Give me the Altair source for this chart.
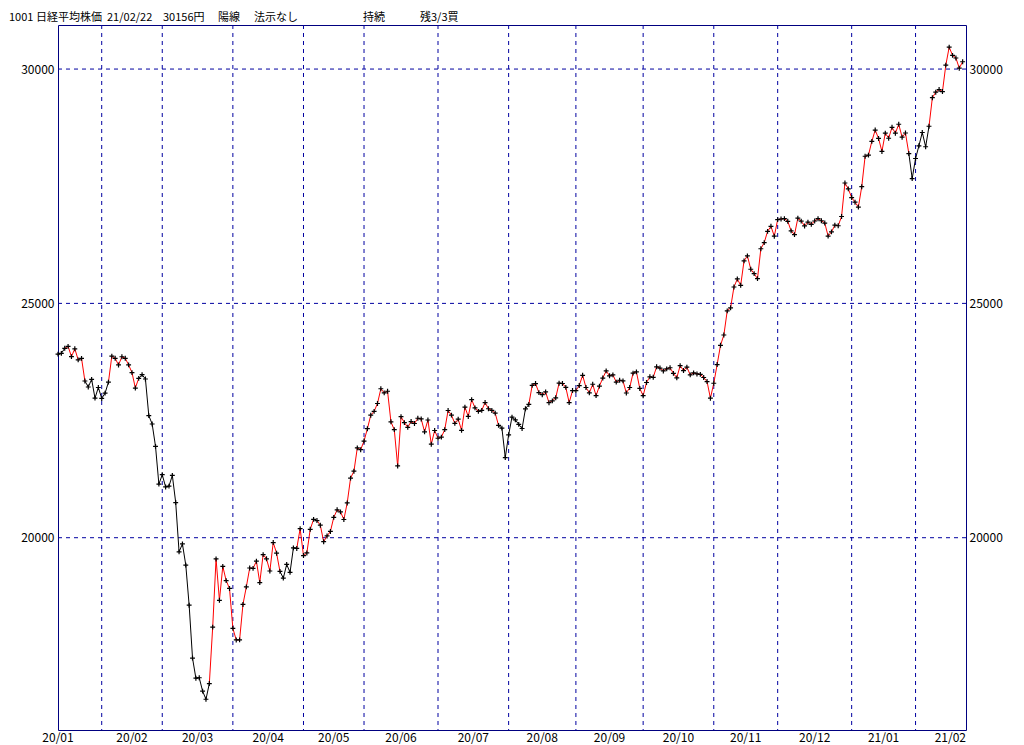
import altair as alt
import pandas as pd

# ---- data (Nikkei 225 daily closes) ----
months = ["2020-01", "2020-02", "2020-03", "2020-04", "2020-05", "2020-06", "2020-07",
          "2020-08", "2020-09", "2020-10", "2020-11", "2020-12", "2021-01", "2021-02"]
days = [
    [15, 16, 17, 20, 21, 22, 23, 24, 27, 28, 29, 30, 31],
    [3, 4, 5, 6, 7, 10, 12, 13, 14, 17, 18, 19, 20, 21, 25, 26, 27, 28],
    [2, 3, 4, 5, 6, 9, 10, 11, 12, 13, 16, 17, 18, 19, 23, 24, 25, 26, 27, 30, 31],
    [1, 2, 3, 6, 7, 8, 9, 10, 13, 14, 15, 16, 17, 20, 21, 22, 23, 24, 27, 28, 30],
    [1, 7, 8, 11, 12, 13, 14, 15, 18, 19, 20, 21, 22, 25, 26, 27, 28, 29],
    [1, 2, 3, 4, 5, 8, 9, 10, 11, 12, 15, 16, 17, 18, 19, 22, 23, 24, 25, 26, 29, 30],
    [1, 2, 3, 6, 7, 8, 9, 10, 13, 14, 15, 16, 17, 20, 21, 22, 27, 28, 29, 30, 31],
    [3, 4, 5, 6, 7, 11, 12, 13, 14, 17, 18, 19, 20, 21, 24, 25, 26, 27, 28, 31],
    [1, 2, 3, 4, 7, 8, 9, 10, 11, 14, 15, 16, 17, 18, 23, 24, 25, 28, 29, 30],
    [2, 5, 6, 7, 8, 9, 12, 13, 14, 15, 16, 19, 20, 21, 22, 23, 26, 27, 28, 29, 30],
    [2, 4, 5, 6, 9, 10, 11, 12, 13, 16, 17, 18, 19, 20, 24, 25, 26, 27, 30],
    [1, 2, 3, 4, 7, 8, 9, 10, 11, 14, 15, 16, 17, 18, 21, 22, 23, 24, 25, 28, 29, 30],
    [4, 5, 6, 7, 8, 12, 13, 14, 15, 18, 19, 20, 21, 22, 25, 26, 27, 28, 29],
    [1, 2, 3, 4, 5, 8, 9, 10, 12, 15, 16, 17, 18, 19, 22],
]
closes = [
    [23916.58, 23933.13, 24041.26, 24083.51, 23864.56, 24031.35, 23795.44, 23827.18,
     23343.51, 23215.71, 23379.40, 22977.75, 23205.18],
    [22971.94, 23084.59, 23319.56, 23873.59, 23827.98, 23685.98, 23861.21, 23827.73,
     23687.59, 23523.24, 23193.80, 23400.70, 23479.15, 23386.74, 22605.41, 22426.19,
     21948.23, 21142.96],
    [21344.08, 21082.73, 21100.06, 21329.12, 20749.75, 19698.76, 19867.12, 19416.06,
     18559.63, 17431.05, 17002.04, 17011.53, 16726.55, 16552.83, 16887.78, 18092.35,
     19546.63, 18664.60, 19389.43, 19084.97, 18917.01],
    [18065.41, 17818.72, 17820.19, 18576.30, 18950.18, 19353.24, 19345.77, 19498.50,
     19043.40, 19638.81, 19550.09, 19290.20, 19897.26, 19669.12, 19280.78, 19137.95,
     19429.44, 19262.00, 19783.22, 19771.19, 20193.69],
    [19619.35, 19674.77, 20179.09, 20390.66, 20366.48, 20267.05, 19914.78, 20037.47,
     20133.73, 20433.45, 20595.15, 20552.31, 20388.16, 20741.65, 21271.17, 21419.23,
     21916.31, 21877.89],
    [22062.39, 22325.61, 22613.76, 22695.74, 22863.73, 23178.10, 23091.03, 23124.95,
     22472.91, 22305.48, 21530.95, 22582.21, 22455.76, 22355.46, 22478.79, 22437.27,
     22549.05, 22534.32, 22259.79, 22512.08, 21995.04, 22288.14],
    [22121.73, 22145.96, 22306.48, 22714.44, 22614.69, 22438.65, 22529.29, 22290.81,
     22784.74, 22587.01, 22945.50, 22770.36, 22696.42, 22717.48, 22884.22, 22751.61,
     22715.85, 22657.38, 22397.11, 22339.23, 21710.00],
    [22195.38, 22573.66, 22514.85, 22418.15, 22329.94, 22750.24, 22843.96, 23249.61,
     23289.36, 23096.75, 23051.08, 23110.61, 22880.62, 22920.30, 22985.51, 23296.77,
     23290.86, 23208.86, 22882.65, 23139.76],
    [23138.07, 23247.15, 23465.53, 23205.43, 23089.95, 23274.13, 23032.54, 23235.47,
     23406.49, 23559.30, 23454.89, 23475.53, 23319.37, 23360.30, 23346.49, 23087.82,
     23204.62, 23511.62, 23539.10, 23185.12],
    [23029.90, 23312.14, 23433.73, 23422.82, 23647.07, 23619.69, 23558.69, 23601.78,
     23626.73, 23507.23, 23410.63, 23671.13, 23567.04, 23639.46, 23474.27, 23516.59,
     23494.34, 23485.80, 23418.51, 23331.94, 22977.13],
    [23295.48, 23695.23, 24105.28, 24325.23, 24839.84, 24905.59, 25349.60, 25520.88,
     25385.87, 25906.93, 26014.62, 25728.14, 25634.34, 25527.37, 26165.59, 26296.86,
     26537.31, 26644.71, 26433.62],
    [26787.54, 26800.98, 26809.37, 26751.24, 26547.44, 26467.08, 26817.94, 26756.24,
     26652.52, 26732.44, 26687.84, 26757.40, 26806.67, 26763.39, 26714.42, 26436.39,
     26524.79, 26668.35, 26656.61, 26854.03, 27568.15, 27444.17],
    [27258.38, 27158.63, 27055.94, 27490.13, 28139.03, 28164.34, 28456.59, 28698.26,
     28519.18, 28242.21, 28633.46, 28523.26, 28756.86, 28631.45, 28822.29, 28546.18,
     28635.21, 28197.42, 27663.39],
    [28091.05, 28362.17, 28646.50, 28341.95, 28779.19, 29388.50, 29505.93, 29562.93,
     29520.07, 30084.15, 30467.75, 30292.19, 30236.09, 30017.92, 30156.03],
]
# segments ending on these date ranges are drawn black, others red
black_runs = [("2020-01-16", "2020-01-17"), ("2020-01-28", "2020-02-05"),
              ("2020-02-20", "2020-03-23"), ("2020-04-22", "2020-04-28"),
              ("2020-07-30", "2020-08-12"), ("2021-01-29", "2021-02-05")]
month_labels = ["20/01", "20/02", "20/03", "20/04", "20/05", "20/06", "20/07",
                "20/08", "20/09", "20/10", "20/11", "20/12", "21/01", "21/02"]
y_ticks = [20000, 25000, 30000]
header_parts = ["1001", "日経平均株価", "21/02/22", "30156円", "陽線", "法示なし", "持続", "残3/3買"]

# ---- build tables ----
dates, vals, month_idx = [], [], []
for m, (mon, dl, cl) in enumerate(zip(months, days, closes)):
    for d, c in zip(dl, cl):
        dates.append(f"{mon}-{d:02d}")
        vals.append(c)
        month_idx.append(m)
n = len(vals)

pts = pd.DataFrame({"i": list(range(n)), "v": vals, "date": dates})

def is_black(ds):
    return any(a <= ds <= b for a, b in black_runs)

seg = pd.DataFrame({
    "i": list(range(n - 1)),
    "i2": list(range(1, n)),
    "v": vals[:-1],
    "v2": vals[1:],
    "state": ["down" if is_black(dates[k]) else "up" for k in range(1, n)],
})

starts = [0] + [k for k in range(1, n) if month_idx[k] != month_idx[k - 1]]
bounds = starts + [n]
xmax = n
grid_v = pd.DataFrame({"i": starts[1:]})
lab_mid = pd.DataFrame({
    "i": [(bounds[k] + bounds[k + 1]) / 2 for k in range(1, len(months) - 1)],
    "t": month_labels[1:-1],
})
lab_first = pd.DataFrame({"i": [0], "t": [month_labels[0]]})
lab_last = pd.DataFrame({"i": [xmax], "t": [month_labels[-1]]})
grid_h = pd.DataFrame({"v": y_ticks})

W, H = 908, 705
NAVY = "#000080"
GRID = "#0000a0"
FONT = "Noto Sans CJK JP"
xs = alt.Scale(domain=[0, xmax], nice=False, zero=False)
ys = alt.Scale(domain=[15897, 30940], nice=False, zero=False)

def yaxis(orient, pad):
    return alt.Axis(orient=orient, values=y_ticks, grid=False, ticks=False, domain=False,
                    labelFont=FONT, labelFontSize=12, labelColor="black", labelPadding=pad,
                    title=None, format="d")

vgrid = alt.Chart(grid_v).mark_rule(color=GRID, strokeDash=[4, 4], strokeWidth=1).encode(
    x=alt.X("i:Q", scale=xs, axis=None))
hgrid = alt.Chart(grid_h).mark_rule(color=GRID, strokeDash=[4, 4], strokeWidth=1).encode(
    y=alt.Y("v:Q", scale=ys, axis=yaxis("left", 4)))
lines = alt.Chart(seg).mark_rule(strokeWidth=1).encode(
    x=alt.X("i:Q", scale=xs, axis=None), x2="i2:Q",
    y=alt.Y("v:Q", scale=ys, axis=None), y2="v2:Q",
    color=alt.Color("state:N", scale=alt.Scale(domain=["up", "down"], range=["#ff0000", "#000000"]),
                    legend=None))
points = alt.Chart(pts).mark_point(shape="M-1,0L1,0M0,-1L0,1", size=24, filled=False,
                                   stroke="black", strokeWidth=1.2, opacity=1).encode(
    x=alt.X("i:Q", scale=xs, axis=None),
    y=alt.Y("v:Q", scale=ys, axis=yaxis("right", 3)))

def xlabels(df, align):
    return alt.Chart(df).mark_text(font=FONT, fontSize=12, color="black", align=align,
                                   baseline="alphabetic").encode(
        x=alt.X("i:Q", scale=xs, axis=None), y=alt.value(H + 12), text="t:N")

hdr = pd.DataFrame({"t": header_parts})
header_x = [-49, -22, 49, 105, 160, 196, 305, 362]
hdr["px"] = header_x
header = alt.Chart(hdr).mark_text(font=FONT, fontSize=11, color="black", align="left",
                                  baseline="alphabetic").encode(
    x=alt.X("px:Q", scale=None), y=alt.value(-4), text="t:N")

chart = alt.layer(vgrid, hgrid, lines, points,
                  xlabels(lab_mid, "center"), xlabels(lab_first, "center"),
                  xlabels(lab_last, "right"), header).properties(
    width=W, height=H,
    autosize=alt.AutoSizeParams(type="none"),
    padding={"left": 50, "top": 17, "right": 42, "bottom": 15},
).configure_view(stroke=NAVY, strokeWidth=1)

chart.save("out.html", embed_options={"renderer": "svg", "actions": False})
